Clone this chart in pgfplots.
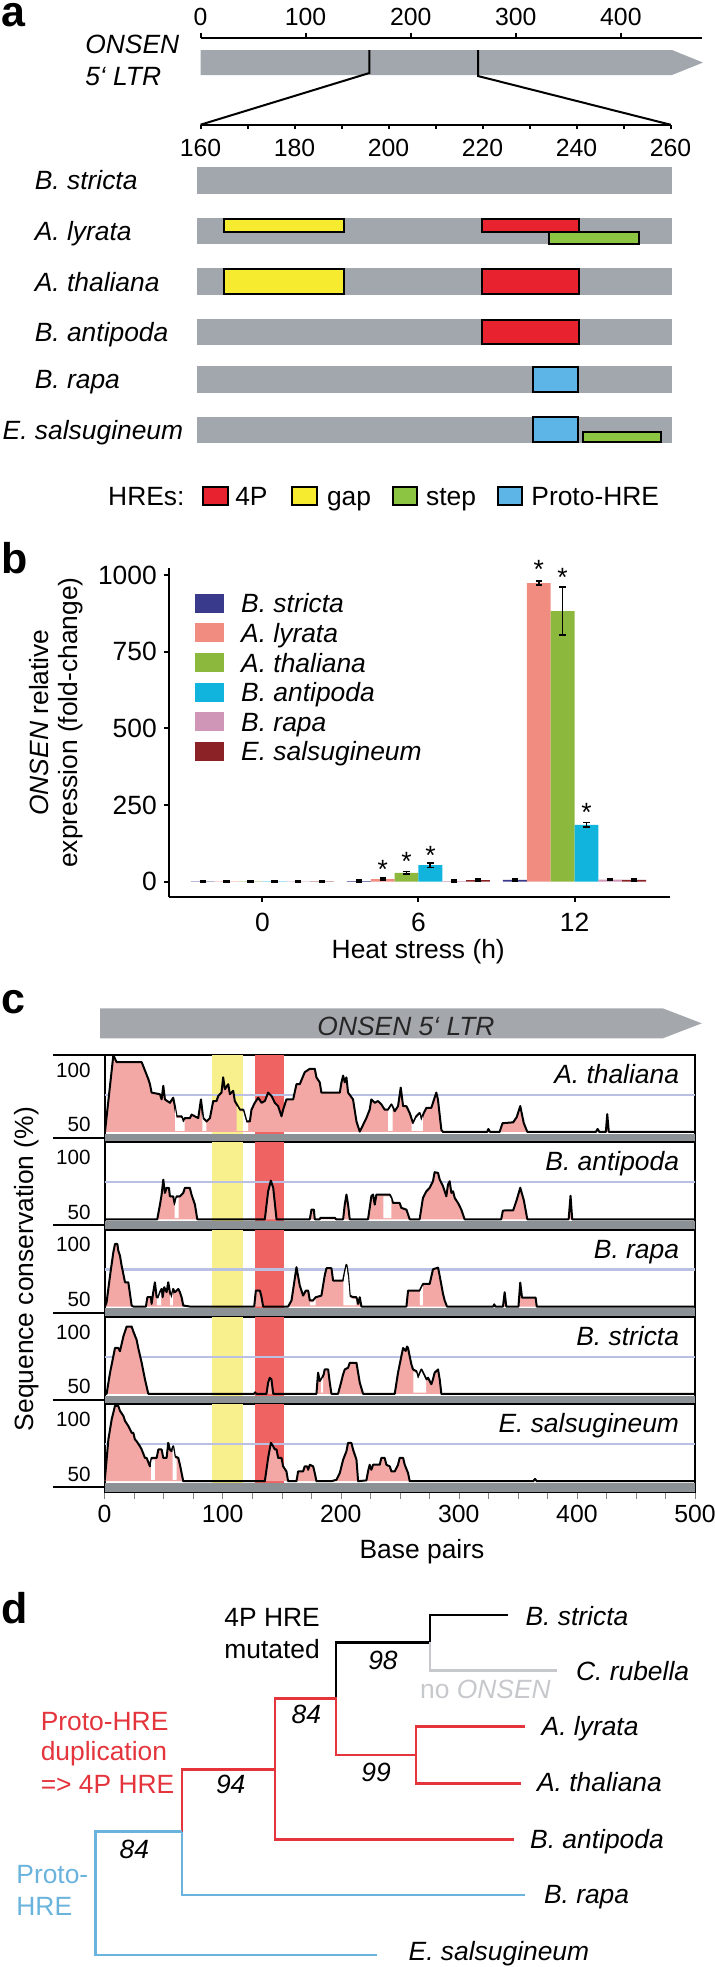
\documentclass[border=0pt]{standalone}
\usepackage{pgfplots}
\pgfplotsset{compat=1.18}
\usepackage{fontspec}
\setmainfont{Liberation Sans}
\pgfplotsset{/pgf/number format/assume math mode=true,/pgf/number format/1000 sep={}}

\definecolor{rowgray}{HTML}{A2A7AD}
\definecolor{hred}{HTML}{E8232F}
\definecolor{hyel}{HTML}{F6EB2E}
\definecolor{hgrn}{HTML}{8CC541}
\definecolor{hblu}{HTML}{5DB4E6}
\definecolor{cstr}{HTML}{3A3A8C}
\definecolor{clyr}{HTML}{F08C80}
\definecolor{ctha}{HTML}{8CB83E}
\definecolor{cant}{HTML}{10B4DC}
\definecolor{crap}{HTML}{D096B8}
\definecolor{csal}{HTML}{8B2326}
\definecolor{tred}{HTML}{E4343C}
\definecolor{tblu}{HTML}{69B3DD}
\definecolor{tgry}{HTML}{C6C8CB}
\definecolor{agry}{HTML}{A4A8AD}
\definecolor{cpink}{HTML}{F3A8A6}
\definecolor{byel}{HTML}{F8F08C}
\definecolor{bred}{HTML}{EF6363}
\definecolor{lblu}{HTML}{B9C0E3}
\definecolor{bgry}{HTML}{8C9196}

\newcommand\fA{\fontsize{13.2}{15.8}\selectfont}
\newcommand\fT{\fontsize{12.4}{14}\selectfont}
\newcommand\fC{\fontsize{10.3}{12}\selectfont}
\newcommand\fP{\fontsize{21.5}{24}\selectfont\bfseries}

\pgfplotsset{
 strip/.style={anchor=north west, scale only axis, width=295.2pt, height=43.65pt,
  xmin=0, xmax=500, ymin=43, ymax=102, axis line style={line width=1pt},
  ytick={50,100}, yticklabels={\raisebox{0pt}[0pt][0pt]{50},\raisebox{-9.7pt}[0pt][0pt]{100}},
  yticklabel style={font=\fC}, ytick style={draw=none}, tick align=outside,
  major tick length=3.5pt, minor tick length=3.5pt, xtick=\empty, ytick pos=left},
 curve/.style={fill=cpink, draw=black, line width=1pt, line join=round},
 gap/.style={fill=white, draw=none},
}
\newcommand\stripbg{%
 \addplot[fill=bgry, draw=none] coordinates {(0,43) (500,43) (500,48.8) (0,48.8)};
 \addplot[fill=byel, draw=none] coordinates {(91,48.8) (117,48.8) (117,102) (91,102)};
 \addplot[fill=bred, draw=none] coordinates {(127,48.8) (152,48.8) (152,102) (127,102)};
 \addplot[lblu, line width=1.2pt] coordinates {(0,75) (500,75)};
}

\begin{document}
\begin{tikzpicture}
\useasboundingbox (0,0) rectangle (357.5pt,-983.5pt);

% ================= canvas (pixel coordinates) =================
\begin{axis}[at={(0pt,0pt)}, anchor=north west, scale only axis, width=357.5pt, height=983.5pt,
  xmin=0, xmax=715, ymin=0, ymax=1967, y dir=reverse, hide axis, clip=false]
% panel letters
\node[anchor=base west, inner sep=0, font=\fP] at (axis cs:1.5,26) {a};
\node[anchor=base west, inner sep=0, font=\fP] at (axis cs:1,573) {b};
\node[anchor=base west, inner sep=0, font=\fP] at (axis cs:1,1013.3) {c};
\node[anchor=base west, inner sep=0, font=\fP] at (axis cs:1,1623.3) {d};
% ---- panel a ----
\addplot[fill=rowgray, draw=none] coordinates {(200.5,50) (672,50) (703,62.5) (672,75) (200.5,75)};
\node[anchor=base west, inner sep=0, font=\fA\itshape] at (axis cs:84.9,53.3) {ONSEN};
\node[anchor=base west, inner sep=0, font=\fA\itshape] at (axis cs:84.9,85) {5‘ LTR};
\addplot[black, line width=1pt] coordinates {(369.3,50) (369.3,73) (200.5,124.7)};
\addplot[black, line width=1pt] coordinates {(478,50) (478,76) (670.6,124.7)};
\node[anchor=base west, inner sep=0, font=\fA\itshape] at (axis cs:34.4,189.9) {B. stricta};
\node[anchor=base west, inner sep=0, font=\fA\itshape] at (axis cs:34.4,240.5) {A. lyrata};
\node[anchor=base west, inner sep=0, font=\fA\itshape] at (axis cs:34.4,291) {A. thaliana};
\node[anchor=base west, inner sep=0, font=\fA\itshape] at (axis cs:34.4,341.5) {B. antipoda};
\node[anchor=base west, inner sep=0, font=\fA\itshape] at (axis cs:34.4,388.9) {B. rapa};
\node[anchor=base west, inner sep=0, font=\fA\itshape] at (axis cs:2.3,439.2) {E. salsugineum};
% HRE legend
\node[anchor=base west, inner sep=0, font=\fA] at (axis cs:107.8,505.7) {HREs:};
\addplot[fill=hred, draw=black, line width=1pt] coordinates {(202.8,486.7) (228,486.7) (228,505) (202.8,505)} -- cycle;
\node[anchor=base west, inner sep=0, font=\fA] at (axis cs:234.9,505.7) {4P};
\addplot[fill=hyel, draw=black, line width=1pt] coordinates {(292,486.7) (317.4,486.7) (317.4,505) (292,505)} -- cycle;
\node[anchor=base west, inner sep=0, font=\fA] at (axis cs:326.6,505.7) {gap};
\addplot[fill=hgrn, draw=black, line width=1pt] coordinates {(393,486.7) (417.4,486.7) (417.4,505) (393,505)} -- cycle;
\node[anchor=base west, inner sep=0, font=\fA] at (axis cs:425.7,505.7) {step};
\addplot[fill=hblu, draw=black, line width=1pt] coordinates {(497.7,486.7) (522,486.7) (522,505) (497.7,505)} -- cycle;
\node[anchor=base west, inner sep=0, font=\fA] at (axis cs:531,505.7) {Proto-HRE};
% ---- panel b legend ----
\addplot[fill=cstr, draw=none] coordinates {(194.5,593.8) (223.5,593.8) (223.5,612.8) (194.5,612.8)};
\addplot[fill=clyr, draw=none] coordinates {(194.5,623.4) (223.5,623.4) (223.5,642.4) (194.5,642.4)};
\addplot[fill=ctha, draw=none] coordinates {(194.5,653.0) (223.5,653.0) (223.5,672.0) (194.5,672.0)};
\addplot[fill=cant, draw=none] coordinates {(194.5,682.6) (223.5,682.6) (223.5,701.6) (194.5,701.6)};
\addplot[fill=crap, draw=none] coordinates {(194.5,712.2) (223.5,712.2) (223.5,731.2) (194.5,731.2)};
\addplot[fill=csal, draw=none] coordinates {(194.5,741.8) (223.5,741.8) (223.5,760.8) (194.5,760.8)};
\node[anchor=base west, inner sep=0, font=\fA\itshape] at (axis cs:240.8,612.8) {B. stricta};
\node[anchor=base west, inner sep=0, font=\fA\itshape] at (axis cs:240.8,642.4) {A. lyrata};
\node[anchor=base west, inner sep=0, font=\fA\itshape] at (axis cs:240.8,672.0) {A. thaliana};
\node[anchor=base west, inner sep=0, font=\fA\itshape] at (axis cs:240.8,701.6) {B. antipoda};
\node[anchor=base west, inner sep=0, font=\fA\itshape] at (axis cs:240.8,731.2) {B. rapa};
\node[anchor=base west, inner sep=0, font=\fA\itshape] at (axis cs:240.8,760.8) {E. salsugineum};
% ---- panel c decorations ----
\addplot[fill=agry, draw=none] coordinates {(100,1008.3) (662.8,1008.3) (701.8,1023.3) (662.8,1038.3) (100,1038.3)};
\node[anchor=base, inner sep=0, font=\fA\itshape, text=black!85] at (axis cs:406,1035) {ONSEN 5‘ LTR};
\node[rotate=90, anchor=center, inner sep=0, font=\fA] at (axis cs:27,1269) {Sequence conservation (\%)};
\addplot[black, line width=1pt] coordinates {(52.8,1055) (104.6,1055)};
\addplot[black, line width=1pt] coordinates {(52.8,1138) (104.6,1138)};
\addplot[black, line width=1pt] coordinates {(52.8,1225.3) (104.6,1225.3)};
\addplot[black, line width=1pt] coordinates {(52.8,1312.6) (104.6,1312.6)};
\addplot[black, line width=1pt] coordinates {(52.8,1399.9) (104.6,1399.9)};
\addplot[black, line width=1pt] coordinates {(52.8,1487.2) (104.6,1487.2)};
% ---- panel d tree ----
\addplot[black, line width=1.25pt] coordinates {(507.8,1615) (429.8,1615) (429.8,1642.3) (336.2,1642.3) (336.2,1698.3)};
\addplot[tgry, line width=1.25pt] coordinates {(429.8,1642.3) (429.8,1670.7) (557.3,1670.7)};
\addplot[tred, line width=1.25pt] coordinates {(182.1,1831.7) (182.1,1769.3) (275.2,1769.3) (275.2,1698.3) (336.2,1698.3) (336.2,1755) (416.1,1755)};
\addplot[tred, line width=1.25pt] coordinates {(525.2,1726.7) (416.1,1726.7) (416.1,1783.3) (520.6,1783.3)};
\addplot[tred, line width=1.25pt] coordinates {(275.2,1769.3) (275.2,1839.3) (513.8,1839.3)};
\addplot[tblu, line width=1.25pt] coordinates {(182.1,1831.7) (182.1,1895) (525.2,1895)};
\addplot[tblu, line width=1.25pt] coordinates {(182.1,1831.7) (95.4,1831.7) (95.4,1955) (377.1,1955)};
\node[anchor=base west, inner sep=0, font=\fA\itshape] at (axis cs:525.2,1625) {B. stricta};
\node[anchor=base west, inner sep=0, font=\fA\itshape] at (axis cs:575.7,1680) {C. rubella};
\node[anchor=base west, inner sep=0, font=\fA, text=tgry] at (axis cs:419.7,1698.3) {no \textit{ONSEN}};
\node[anchor=base west, inner sep=0, font=\fA\itshape] at (axis cs:541.3,1735) {A. lyrata};
\node[anchor=base west, inner sep=0, font=\fA\itshape] at (axis cs:536.7,1791.7) {A. thaliana};
\node[anchor=base west, inner sep=0, font=\fA\itshape] at (axis cs:529.8,1848) {B. antipoda};
\node[anchor=base west, inner sep=0, font=\fA\itshape] at (axis cs:543.6,1903) {B. rapa};
\node[anchor=base west, inner sep=0, font=\fA\itshape] at (axis cs:408.3,1960) {E. salsugineum};
\node[anchor=base east, inner sep=0, font=\fA] at (axis cs:320.2,1626.7) {4P HRE};
\node[anchor=base east, inner sep=0, font=\fA] at (axis cs:320.2,1658) {mutated};
\node[anchor=base, inner sep=0, font=\fA\itshape] at (axis cs:383,1669) {98};
\node[anchor=base, inner sep=0, font=\fA\itshape] at (axis cs:306.4,1723) {84};
\node[anchor=base, inner sep=0, font=\fA\itshape] at (axis cs:376.1,1781.7) {99};
\node[anchor=base, inner sep=0, font=\fA\itshape] at (axis cs:230.7,1793) {94};
\node[anchor=base, inner sep=0, font=\fA\itshape] at (axis cs:134.4,1858) {84};
\node[anchor=base west, inner sep=0, font=\fA, text=tred] at (axis cs:40.4,1730) {Proto-HRE};
\node[anchor=base west, inner sep=0, font=\fA, text=tred] at (axis cs:40.4,1760) {duplication};
\node[anchor=base west, inner sep=0, font=\fA, text=tred] at (axis cs:40.4,1793) {=> 4P HRE};
\node[anchor=base west, inner sep=0, font=\fA, text=tblu] at (axis cs:16,1883.3) {Proto-};
\node[anchor=base west, inner sep=0, font=\fA, text=tblu] at (axis cs:16,1915) {HRE};
\end{axis}

% ================= panel a: full LTR scale =================
\begin{axis}[at={(100.25pt,-18.85pt)}, anchor=north west, scale only axis, width=250.65pt, height=1pt,
  xmin=0, xmax=477, ymin=0, ymax=1, axis x line=top, axis y line=none,
  axis line style={-, line width=1pt}, xtick={0,100,200,300,400}, tick align=outside,
  major tick length=2.5pt, tick style={black, line width=1pt}, xticklabel style={font=\fT}]
\end{axis}
% ================= panel a: zoom scale =================
\begin{axis}[at={(100.25pt,-62.35pt)}, anchor=south west, scale only axis, width=235.05pt, height=1pt,
  xmin=160, xmax=260, ymin=0, ymax=1, axis x line=bottom, axis y line=none,
  axis line style={-, line width=1pt}, xtick={160,180,...,260}, minor xtick={170,190,...,250},
  tick align=outside, major tick length=2.2pt, minor tick length=2.2pt,
  tick style={black, line width=1pt}, xticklabel style={font=\fT, yshift=-1.3pt}]
\end{axis}
% ================= panel a: species rows =================
\begin{axis}[at={(98.6pt,-75pt)}, anchor=north west, scale only axis, width=237.4pt, height=155pt,
  xmin=159.3, xmax=260.3, ymin=150, ymax=460, y dir=reverse, hide axis, clip=false]
\addplot[fill=rowgray, draw=none] coordinates {(159.3,166.7) (260.3,166.7) (260.3,194) (159.3,194)};
\addplot[fill=rowgray, draw=none] coordinates {(159.3,218) (260.3,218) (260.3,244) (159.3,244)};
\addplot[fill=rowgray, draw=none] coordinates {(159.3,268) (260.3,268) (260.3,295) (159.3,295)};
\addplot[fill=rowgray, draw=none] coordinates {(159.3,319) (260.3,319) (260.3,345) (159.3,345)};
\addplot[fill=rowgray, draw=none] coordinates {(159.3,366) (260.3,366) (260.3,392.7) (159.3,392.7)};
\addplot[fill=rowgray, draw=none] coordinates {(159.3,416.7) (260.3,416.7) (260.3,442.7) (159.3,442.7)};
% A. lyrata
\addplot[fill=hyel, draw=black, line width=1pt] coordinates {(164.9,219) (190.5,219) (190.5,231.7) (164.9,231.7)} -- cycle;
\addplot[fill=hgrn, draw=black, line width=1pt] coordinates {(234.2,232.3) (253.2,232.3) (253.2,244.3) (234.2,244.3)} -- cycle;
\addplot[fill=hred, draw=black, line width=1pt] coordinates {(219.8,219) (240.5,219) (240.5,231.7) (219.8,231.7)} -- cycle;
% A. thaliana
\addplot[fill=hyel, draw=black, line width=1pt] coordinates {(164.9,269) (190.5,269) (190.5,294) (164.9,294)} -- cycle;
\addplot[fill=hred, draw=black, line width=1pt] coordinates {(219.8,269) (240.5,269) (240.5,294) (219.8,294)} -- cycle;
% B. antipoda
\addplot[fill=hred, draw=black, line width=1pt] coordinates {(219.8,320) (240.5,320) (240.5,344) (219.8,344)} -- cycle;
% B. rapa
\addplot[fill=hblu, draw=black, line width=1pt] coordinates {(230.7,366.5) (240.3,366.5) (240.3,392) (230.7,392)} -- cycle;
% E. salsugineum
\addplot[fill=hblu, draw=black, line width=1pt] coordinates {(230.7,417) (240.3,417) (240.3,442) (230.7,442)} -- cycle;
\addplot[fill=hgrn, draw=black, line width=1pt] coordinates {(241.3,432.3) (257.9,432.3) (257.9,442.3) (241.3,442.3)} -- cycle;
\end{axis}

% ================= panel b =================
\begin{axis}[at={(84.4pt,-448.35pt)}, anchor=south west, scale only axis, width=250.45pt, height=164.35pt,
  xmin=-0.6, xmax=2.61, ymin=-49, ymax=1022.5,
  axis x line=bottom, axis y line=left, axis line style={-, line width=1pt},
  ybar=0pt, bar width=11.92pt,
  xtick={0,1,2}, xticklabels={0,6,12}, ytick={0,250,500,750,1000}, scaled y ticks=false,
  tick align=outside, major tick length=2.5pt, tick style={black, line width=1pt},
  ticklabel style={font=\fA}, xticklabel style={yshift=-2.3pt},
  xlabel={Heat stress (h)}, xlabel style={font=\fA, at={(axis description cs:0.498,0)}, anchor=base, yshift=-30.65pt},
  ylabel={\textit{ONSEN} relative\\expression (fold-change)},
  ylabel style={font=\fontsize{13.2}{14.9}\selectfont, align=center, at={(axis description cs:-0.225,0.53)}, anchor=center},
  error bars/y dir=both, error bars/y explicit,
  error bars/error bar style={black, line width=0.9pt},
  error bars/error mark options={black, rotate=90, mark size=1.6pt, line width=0.9pt},
  clip=false]
\addplot[fill=cstr, draw=none] coordinates {(0,1) +- (0,3) (1,2) +- (0,3) (2,6) +- (0,3)};
\addplot[fill=clyr, draw=none] coordinates {(0,1) +- (0,3) (1,8) +- (0,3) (2,973) +- (0,6)};
\addplot[fill=ctha, draw=none] coordinates {(0,1) +- (0,3) (1,29) +- (0,4) (2,882) +- (0,78)};
\addplot[fill=cant, draw=none] coordinates {(0,1) +- (0,3) (1,54) +- (0,8) (2,185) +- (0,8)};
\addplot[fill=crap, draw=none] coordinates {(0,1) +- (0,3) (1,2) +- (0,3) (2,7) +- (0,3)};
\addplot[fill=csal, draw=none] coordinates {(0,1) +- (0,3) (1,5) +- (0,3) (2,6) +- (0,3)};
\node[anchor=base, inner sep=0, font=\fA] at (axis cs:0.7706,11) {*};
\node[anchor=base, inner sep=0, font=\fA] at (axis cs:0.9235,35) {*};
\node[anchor=base, inner sep=0, font=\fA] at (axis cs:1.0765,57) {*};
\node[anchor=base, inner sep=0, font=\fA] at (axis cs:1.7706,989) {*};
\node[anchor=base, inner sep=0, font=\fA] at (axis cs:1.9235,963) {*};
\node[anchor=base, inner sep=0, font=\fA] at (axis cs:2.0765,195) {*};
\end{axis}

% ================= panel c strips =================
\begin{axis}[strip, at={(52.3pt,-527.5pt)}]
\stripbg
\addplot[curve] coordinates {(0,50) (0.3,50) (7.4,101.8) (10.2,97.2) (31.4,97.2) (34.2,91.5) (37.0,85.8) (38.4,82.3) (39.8,76.6) (46.9,75.5) (48.3,72.0) (49.7,81.2) (51.1,72.0) (55.3,69.7) (58.1,73.2) (59.5,67.4) (60.9,60.6) (65.2,60.6) (66.6,57.1) (68.0,59.4) (72.3,59.4) (73.7,61.7) (79.3,59.4) (81.6,72.0) (83.5,59.4) (86.4,57.1) (89.2,59.4) (92.0,70.9) (94.8,70.9) (96.2,74.3) (99.0,76.6) (100.4,86.9) (101.9,78.9) (104.7,82.3) (106.1,75.5) (108.9,77.8) (110.3,70.9) (114.5,65.1) (117.4,65.1) (120.2,57.1) (123.0,57.1) (124.4,65.1) (127.2,69.7) (130.1,73.2) (132.9,69.7) (135.7,70.9) (138.5,76.6) (141.4,74.3) (144.2,69.7) (147.0,67.4) (149.8,60.6) (151.2,65.1) (154.0,72.0) (159.7,72.0) (162.5,82.3) (165.3,82.3) (169.5,90.4) (173.8,92.7) (178.0,92.7) (179.4,86.9) (182.2,83.5) (183.6,76.6) (199.2,76.6) (200.6,83.5) (202.0,88.1) (203.4,83.5) (204.8,86.9) (206.2,76.6) (210.4,72.0) (213.3,57.1) (216.1,50.2) (218.9,54.8) (221.7,59.4) (224.5,65.1) (225.9,72.0) (228.8,69.7) (231.6,70.9) (234.4,68.6) (237.2,65.1) (240.0,65.1) (242.9,68.6) (245.7,64.0) (248.5,67.4) (250.8,80.0) (252.8,67.4) (255.6,67.4) (258.4,62.8) (261.2,56.0) (264.0,60.6) (266.8,62.8) (268.2,58.3) (269.7,61.7) (272.5,66.3) (276.7,66.3) (280.9,76.6) (282.3,72.0) (285.2,51.4) (286.6,50) (324,50) (325,52) (326.5,50) (334.5,50) (337,55.9) (346,56.5) (349,60) (352,67.5) (355,56) (358,50) (416,50) (417.5,52) (419,50) (424.5,50) (425.7,62) (427,50) (500,50)};
\addplot[gap] coordinates {(59.8,50.8) (59.8,65.5) (60.9,59.4) (65.2,59.4) (66.6,55.9) (67.7,58) (67.7,50.8)};
\addplot[gap] coordinates {(82.8,50.8) (82.8,62) (83.5,58.2) (86.2,55.9) (86.2,50.8)};
\addplot[fill=byel, draw=none] coordinates {(111.9,50.8) (111.9,67.7) (114.5,63.9) (117,63.9) (117,50.8)};
\addplot[gap] coordinates {(117,50.8) (117,63.9) (117.4,63.9) (120.2,55.9) (121.6,55.9) (121.6,50.8)};
\addplot[gap] coordinates {(240.2,50.8) (240.2,63.9) (242.9,67.4) (244,65.5) (244,50.8)};
\addplot[gap] coordinates {(260,50.8) (260,56) (261.2,54.8) (264,59.4) (266.8,61.6) (268.2,57.1) (269.5,60.5) (269.5,50.8)};
\node[anchor=base east, inner sep=0, font=\fA\itshape] at (axis cs:486.8,82.7) {A. thaliana};
\end{axis}

\begin{axis}[strip, at={(52.3pt,-571.15pt)}]
\stripbg
\addplot[curve] coordinates {(0,50) (44.6,50) (46.9,59.9) (48.3,66.7) (49.7,76.8) (51.1,67.8) (52.5,71.2) (54.5,71.2) (55.3,65.5) (58.1,65.5) (59.5,59.9) (61.0,65.5) (63.8,65.5) (66.6,67.8) (68.0,71.2) (72.2,71.2) (73.6,66.7) (76.5,59.9) (78.5,50) (135.7,50) (138.5,68.9) (140.8,76.1) (142.8,71.2) (145.6,50) (173.8,50) (175.2,56.5) (177.2,56.5) (178.0,50) (182,50) (183,51) (195,51) (196,50) (202.0,50) (203.4,59.9) (204.8,66.7) (206.2,59.9) (207.6,50) (223.1,50) (224.5,57.7) (225.9,65.5) (227.4,66.7) (228.8,59.9) (230.2,66.7) (241.5,66.7) (242.9,64.4) (244.3,61.0) (249.9,61.0) (251.3,57.7) (255.6,56.5) (258.4,50) (266.8,50) (269.6,64.4) (272.5,68.9) (275.3,71.2) (278.1,75.7) (279.5,81.8) (282.4,81.3) (283.8,76.8) (286.6,72.3) (289.4,65.5) (290.8,73.4) (292.2,75.7) (293.7,67.8) (295.1,68.9) (296.5,64.4) (299.3,61.0) (302.1,56.5) (304.9,50) (335.9,50) (337.3,55.9) (346,56) (349,63) (352,71.3) (355,63) (358,50) (393,50) (394.6,65.9) (396,50) (500,50)};
\addplot[gap] coordinates {(59.3,50.8) (59.3,58.7) (61.0,64.3) (62.6,64.3) (62.6,50.8)};
\addplot[gap] coordinates {(236,50.8) (236,65.5) (241.5,65.5) (242.9,63.2) (242.9,50.8)};
\node[anchor=base east, inner sep=0, font=\fA\itshape] at (axis cs:486.8,82.7) {B. antipoda};
\end{axis}

\begin{axis}[strip, at={(52.3pt,-614.8pt)}]
\stripbg
\addplot[curve] coordinates {(0,50) (0.3,50) (1.7,52.9) (4.6,70.9) (7.4,86.7) (8.8,92.3) (10.8,92.3) (11.6,87.8) (13.0,84.5) (14.4,77.7) (17.3,66.4) (20.1,66.4) (22.9,50.7) (24.3,50) (35.0,50) (36.2,56.3) (39.3,56.3) (39.8,51.8) (41.2,59.7) (42.6,66.4) (44.1,56.3) (45.5,56.3) (46.9,59.7) (48.3,61.9) (49.1,56.3) (50.5,63.1) (52.5,59.7) (53.9,66.4) (55.3,59.7) (56.7,56.3) (58.1,61.9) (59.5,59.7) (61.0,60.8) (62.4,61.9) (63.8,59.7) (65.2,56.3) (66.6,50.7) (72.3,50) (126.7,50) (128.1,60.8) (131.5,60.8) (132.9,56.3) (134.3,50) (155.4,50) (158.3,54.1) (160.2,64.2) (162.5,76.6) (165.3,64.2) (168.1,57.4) (170.4,60.8) (172.4,60.8) (173.8,54.1) (176.6,54.1) (178.8,56.3) (183.6,57.4) (186.4,70.9) (187.9,75.9) (192.1,75.9) (193.5,67.6) (202.0,67.6) (203.4,73.2) (204.8,78.2) (206.2,70.9) (207.6,57.4) (210.4,56.3) (213.3,56.3) (214.7,51.8) (216.1,56.3) (217.5,50) (255.6,50) (257.0,60.8) (266.9,60.8) (269.7,65.3) (275.3,65.3) (278.1,75.2) (282.4,76.3) (283.8,70.7) (286.6,58.6) (288.0,54.1) (290.0,50) (329,50) (330,51.5) (331,50) (337.4,50) (338.8,59.7) (340.2,50) (350.5,50) (352,66.2) (353.5,56.1) (365,56.1) (366,50) (500,50)};
\addplot[gap] coordinates {(44.3,50.8) (44.3,55.1) (45.5,55.1) (46.9,58.5) (47.8,60) (47.8,50.8)};
\addplot[gap] coordinates {(55.5,50.8) (55.5,58.3) (56.7,55.1) (57.8,59.8) (57.8,50.8)};
\addplot[gap] coordinates {(174,50.8) (174,52.9) (176.6,52.9) (178.8,55.1) (178.8,50.8)};
\addplot[gap] coordinates {(202.3,50.8) (202.3,66.4) (203.4,72) (204.8,77) (206.2,69.7) (207.6,56.2) (210.4,55.1) (213,55.1) (213,50.8)};
\addplot[gap] coordinates {(266.9,50.8) (266.9,59.6) (269.5,64) (269.5,50.8)};
\node[anchor=base east, inner sep=0, font=\fA\itshape] at (axis cs:486.8,82.7) {B. rapa};
\end{axis}

\begin{axis}[strip, at={(52.3pt,-658.45pt)}]
\stripbg
\addplot[curve] coordinates {(0,50) (1.7,50) (4.6,64.3) (7.4,75.4) (8.8,81.0) (11.6,81.0) (13.0,78.8) (15.9,88.8) (18.7,95.5) (22.9,95.5) (24.3,92.2) (27.1,86.6) (28.5,81.0) (31.4,71.0) (34.2,59.8) (37.0,50) (126.5,50) (127.5,51) (128.5,50) (137.1,50) (138.5,57.6) (139.9,60.9) (141.3,59.8) (142.8,50) (179.4,50) (180.8,64.3) (182.2,58.7) (183.6,59.8) (185.6,63.2) (186.4,66.5) (189.3,66.5) (190.7,57.6) (192.1,50) (197.7,50) (200.6,58.7) (202.0,63.2) (203.4,66.5) (206.2,67.6) (207.6,71.0) (213.3,71.0) (214.7,64.3) (216.1,57.6) (218.9,50) (245.7,50) (248.5,64.3) (251.3,75.4) (252.8,81.0) (255.0,79) (256.1,82) (257.0,81.0) (258.4,75.4) (259.8,69.9) (261.2,66.5) (264.0,65.4) (265.4,61.0) (268.3,66.5) (269.7,64.3) (272.5,59.8) (273.9,60.9) (276.7,56.5) (278.1,59.8) (279.5,64.3) (282.4,66.5) (283.8,59.8) (285.2,50) (500,50)};
\addplot[gap] coordinates {(261.5,50.8) (261.5,65) (264,64.2) (265.4,59.8) (268.3,65.3) (269.7,63.1) (272.3,58.6) (272.3,50.8)};
\addplot[gap] coordinates {(183.2,50.8) (183.2,58.4) (185,61) (185,50.8)};
\node[anchor=base east, inner sep=0, font=\fA\itshape] at (axis cs:486.8,82.7) {B. stricta};
\end{axis}

\begin{axis}[strip, at={(52.3pt,-702.1pt)},
  xtick={0,100,...,500}, minor xtick={25,50,...,475}, xtick pos=left,
  xticklabel style={font=\fT}, xlabel={Base pairs},
  xlabel style={font=\fA, at={(axis description cs:0.5376,0)}, anchor=base, yshift=-33.4pt}]
\stripbg
\addplot[curve] coordinates {(0,50) (0.3,52.0) (3.2,78.2) (6.0,91.8) (8.8,100.9) (11.6,100.9) (13.0,97.5) (15.9,94.1) (17.3,90.7) (20.1,87.3) (21.5,85.0) (22.9,82.7) (24.3,82.7) (25.7,78.2) (27.1,77.0) (29.9,73.6) (31.4,71.4) (34.2,65.7) (35.6,65.7) (38.4,60.0) (39.8,65.7) (44.1,65.7) (45.5,71.4) (48.3,71.4) (49.7,65.7) (52.5,65.7) (53.9,75.9) (55.3,71.4) (56.7,70.2) (58.1,73.6) (59.5,66.8) (62.4,65.7) (63.8,61.1) (66.6,50) (135.7,50) (138.5,65.7) (140.8,75.9) (142.8,73.6) (144.2,71.4) (145.6,71.4) (147.0,65.7) (149.8,65.7) (151.2,60.0) (154.0,56.6) (155.4,50) (162.5,50) (163.9,56.6) (168.1,56.6) (169.5,60.0) (171.5,60.0) (172.4,57.7) (173.8,61.1) (176.6,60.0) (178.0,55.5) (179.4,50) (192.1,50) (196.3,50.9) (199.2,55.5) (202.0,64.5) (204.8,70.2) (206.2,75.9) (209.0,75.9) (210.4,71.4) (213.3,64.5) (214.7,50) (221.7,50.5) (223.1,56.6) (224.5,61.1) (225.9,57.7) (227.4,61.1) (233.0,61.1) (234.4,65.7) (237.2,65.7) (238.6,61.1) (241.5,60.0) (242.9,56.6) (245.7,56.6) (248.5,61.1) (249.9,65.7) (252.8,65.7) (254.2,61.1) (257.0,55.5) (258.4,50) (363,50) (364.5,51.5) (366,50) (500,50)};
\addplot[gap] coordinates {(39.3,50.8) (39.3,61) (39.8,64.5) (42.6,64.5) (42.6,50.8)};
\addplot[gap] coordinates {(57.6,50.8) (57.6,70.5) (58.1,72.4) (59.5,65.6) (61,64.5) (61,50.8)};
\node[anchor=base east, inner sep=0, font=\fA\itshape] at (axis cs:486.8,82.7) {E. salsugineum};
\end{axis}
\end{tikzpicture}
\end{document}
